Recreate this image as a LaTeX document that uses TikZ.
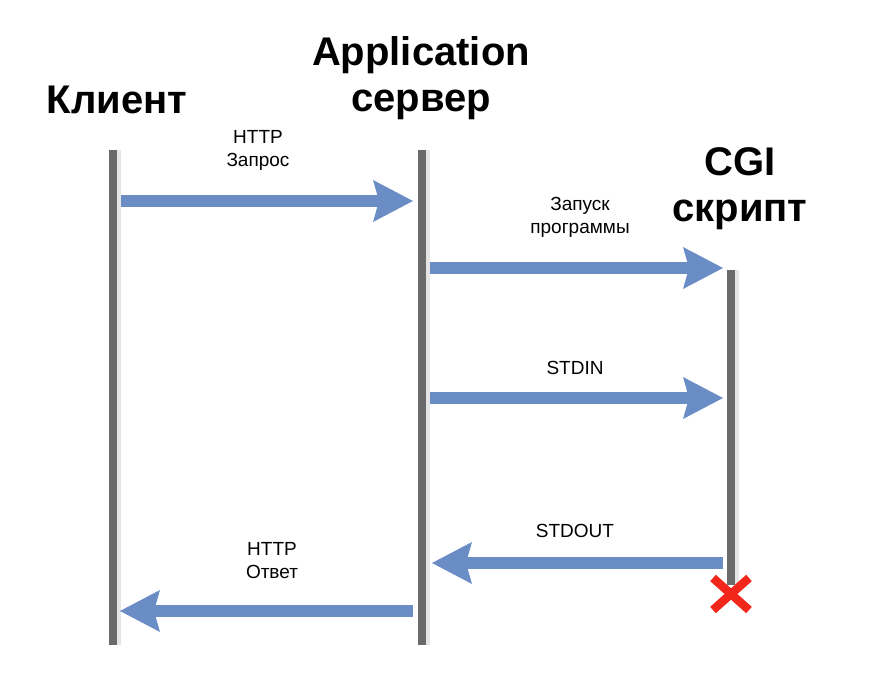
\documentclass[tikz,border=0pt]{standalone}
\usepackage{fontspec}
\setmainfont{Liberation Sans}
\usetikzlibrary{arrows.meta}
\definecolor{lifegray}{HTML}{6A6A6A}
\definecolor{arrowblue}{HTML}{6B8DC6}
\definecolor{xred}{HTML}{F2261B}
\begin{document}
\begin{tikzpicture}[x=1pt,y=-1pt,
  title/.style={font=\bfseries\fontsize{40}{46}\selectfont, align=center, inner sep=0pt},
  lbl/.style={font=\fontsize{19}{23}\selectfont, align=center, inner sep=0pt},
  life/.style={draw=lifegray, line width=8pt},
  lifeshadow/.style={draw=black!10, line width=6pt},
  msg/.style={draw=arrowblue, line width=12.5pt,
    -{Stealth[length=40pt,width=42pt,inset=6pt,line width=0pt,fill=arrowblue]}},
  kill/.style={draw=xred, line width=8.5pt},
]
\useasboundingbox (0,0) rectangle (871,692);

% titles
\node[title] (tclient) at (117,100) {Клиент};
\node[title] (tserver) at (421,78) {Application\\сервер};
\node[title] (tcgi) at (740,189) {CGI\\скрипт};

% lifeline end points
\coordinate (ctop) at (113,150); \coordinate (cbot) at (113,645);
\coordinate (stop) at (422,150); \coordinate (sbot) at (422,645);
\coordinate (gtop) at (731,270); \coordinate (gbot) at (731,585);

% lifelines
\draw[lifeshadow] ([xshift=5pt]ctop) -- ([xshift=5pt]cbot);
\draw[lifeshadow] ([xshift=5pt]stop) -- ([xshift=5pt]sbot);
\draw[lifeshadow] ([xshift=5pt]gtop) -- ([xshift=5pt]gbot);
\draw[life] (ctop) -- (cbot);
\draw[life] (stop) -- (sbot);
\draw[life] (gtop) -- (gbot);

% message end points
\coordinate (m1a) at (121,201); \coordinate (m1b) at (413,201);
\coordinate (m2a) at (430,268); \coordinate (m2b) at (723,268);
\coordinate (m3a) at (430,398); \coordinate (m3b) at (723,398);
\coordinate (m4a) at (723,563); \coordinate (m4b) at (432,563);
\coordinate (m5a) at (413,611); \coordinate (m5b) at (120,611);

% messages
\draw[msg] (m1a) -- (m1b);
\draw[msg] (m2a) -- (m2b);
\draw[msg] (m3a) -- (m3b);
\draw[msg] (m4a) -- (m4b);
\draw[msg] (m5a) -- (m5b);

% labels
\node[lbl] (l1) at (258,150) {HTTP\\Запрос};
\node[lbl] (l2) at (580,217) {Запуск\\программы};
\node[lbl] (l3) at (575,368) {STDIN};
\node[lbl] (l4) at (575,531) {STDOUT};
\node[lbl] (l5) at (272,561) {HTTP\\Ответ};

% termination cross
\coordinate (xc) at (731,594);
\draw[kill] ([shift={(-18,-16)}]xc) -- ([shift={(18,16)}]xc);
\draw[kill] ([shift={(-18,16)}]xc) -- ([shift={(18,-16)}]xc);
\end{tikzpicture}
\end{document}
